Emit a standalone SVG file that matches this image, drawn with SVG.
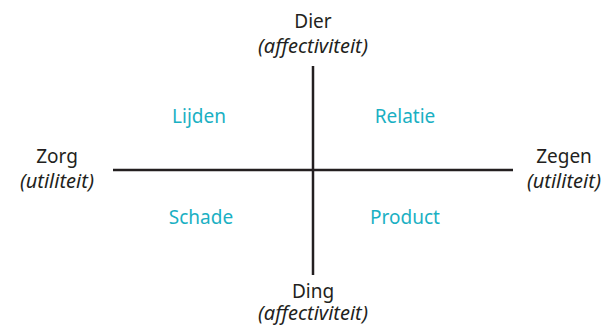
<svg xmlns="http://www.w3.org/2000/svg" width="602" height="325" viewBox="0 0 602 325">
<style>
text{font-family:"Noto Sans","Liberation Sans",sans-serif;font-size:19px;text-anchor:middle}
.ax{fill:#231f20}
.it{font-style:italic;font-size:20px}
.q{fill:#1ab0c3}
line{stroke:#231f20;stroke-width:2.5}
</style>
<rect width="602" height="325" fill="#fff"/>
<g id="axes">
<line x1="313" y1="66" x2="313" y2="275"/>
<line x1="113" y1="170" x2="513" y2="170"/>
</g>
<g id="dier"><text class="ax" x="313" y="28">Dier</text><text class="ax it" x="313" y="53">(affectiviteit)</text></g>
<g id="ding"><text class="ax" x="313" y="298">Ding</text><text class="ax it" x="313" y="320">(affectiviteit)</text></g>
<g id="zorg"><text class="ax" x="57" y="163">Zorg</text><text class="ax it" x="57" y="188">(utiliteit)</text></g>
<g id="zegen"><text class="ax" x="564" y="163">Zegen</text><text class="ax it" x="564" y="188">(utiliteit)</text></g>
<g id="lijden"><text class="q" x="199" y="123">Lijden</text></g>
<g id="relatie"><text class="q" x="405" y="123">Relatie</text></g>
<g id="schade"><text class="q" x="201" y="224">Schade</text></g>
<g id="product"><text class="q" x="405" y="224">Product</text></g>
</svg>
